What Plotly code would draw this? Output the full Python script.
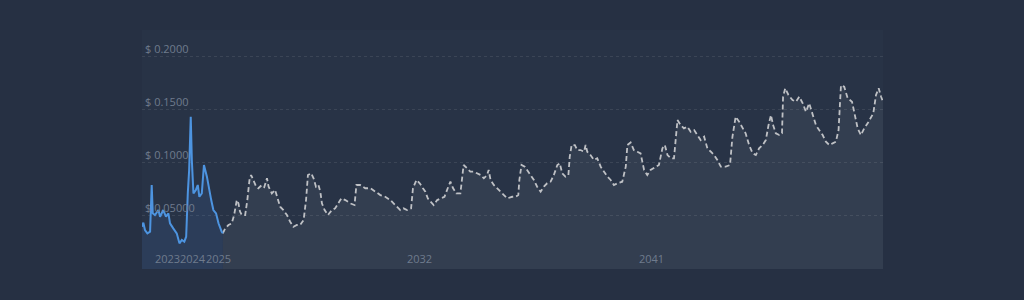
import plotly.graph_objects as go

# Historical prices (decimal year, USD)
hist_years = [2022.00, 2022.05, 2022.11, 2022.20, 2022.30, 2022.36, 2022.40, 2022.48, 2022.61, 2022.67,
              2022.79, 2022.89, 2022.98, 2023.04, 2023.16, 2023.29, 2023.39, 2023.48, 2023.57, 2023.64,
              2023.70, 2023.75, 2023.81, 2023.85, 2023.91, 2024.00, 2024.07, 2024.13, 2024.22, 2024.30,
              2024.41, 2024.49, 2024.57, 2024.65, 2024.75, 2024.84, 2024.90, 2024.96, 2025.00]
hist_prices = [0.0398, 0.0436, 0.0367, 0.0336, 0.0351, 0.0791, 0.0524, 0.0508, 0.0555, 0.0492,
               0.0555, 0.0492, 0.0524, 0.0430, 0.0383, 0.0336, 0.0242, 0.0273, 0.0257, 0.0304,
               0.0712, 0.0932, 0.1433, 0.1026, 0.0712, 0.0744, 0.0791, 0.0680, 0.0712, 0.0979,
               0.0869, 0.0744, 0.0649, 0.0555, 0.0524, 0.0430, 0.0383, 0.0351, 0.0336]

# Forecast prices (decimal year, USD)
fc_years = [2025.00, 2025.09, 2025.21, 2025.33, 2025.42, 2025.52, 2025.58, 2025.64, 2025.71, 2025.83,
            2025.91, 2025.99, 2026.05, 2026.14, 2026.24, 2026.32, 2026.45, 2026.54, 2026.64, 2026.70,
            2026.82, 2026.94, 2027.04, 2027.13, 2027.25, 2027.38, 2027.50, 2027.62, 2027.75, 2027.87,
            2028.00, 2028.09, 2028.16, 2028.28, 2028.37, 2028.46, 2028.55, 2028.62, 2028.68, 2028.78,
            2028.90, 2029.05, 2029.17, 2029.30, 2029.40, 2029.55, 2029.73, 2029.89, 2029.96, 2030.10,
            2030.29, 2030.48, 2030.66, 2030.85, 2031.03, 2031.22, 2031.34, 2031.47, 2031.59, 2031.71,
            2031.84, 2031.99, 2032.06, 2032.19, 2032.31, 2032.43, 2032.52, 2032.61, 2032.71, 2032.83,
            2032.96, 2033.08, 2033.23, 2033.35, 2033.45, 2033.55, 2033.67, 2033.82, 2033.88, 2033.94,
            2034.07, 2034.19, 2034.32, 2034.44, 2034.57, 2034.69, 2034.81, 2034.87, 2034.94, 2035.06,
            2035.19, 2035.31, 2035.43, 2035.56, 2035.74, 2035.87, 2035.97, 2036.01, 2036.09, 2036.21,
            2036.34, 2036.42, 2036.55, 2036.67, 2036.80, 2036.92, 2037.04, 2037.17, 2037.29, 2037.42,
            2037.51, 2037.60, 2037.72, 2037.83, 2037.88, 2037.95, 2038.07, 2038.16, 2038.28, 2038.41,
            2038.47, 2038.53, 2038.65, 2038.78, 2038.90, 2039.03, 2039.15, 2039.28, 2039.40, 2039.52,
            2039.65, 2039.83, 2039.96, 2040.02, 2040.14, 2040.26, 2040.39, 2040.51, 2040.64, 2040.76,
            2040.88, 2041.07, 2041.19, 2041.32, 2041.41, 2041.51, 2041.63, 2041.75, 2041.82, 2041.88,
            2042.00, 2042.12, 2042.25, 2042.37, 2042.50, 2042.62, 2042.74, 2042.87, 2042.99, 2043.12,
            2043.24, 2043.36, 2043.49, 2043.67, 2043.83, 2043.92, 2044.04, 2044.17, 2044.29, 2044.41,
            2044.54, 2044.67, 2044.79, 2044.91, 2045.04, 2045.16, 2045.26, 2045.35, 2045.43, 2045.53,
            2045.66, 2045.76, 2045.80, 2045.88, 2046.00, 2046.15, 2046.28, 2046.40, 2046.53, 2046.65,
            2046.77, 2046.90, 2047.02, 2047.14, 2047.27, 2047.39, 2047.52, 2047.64, 2047.76, 2047.86,
            2047.95, 2048.07, 2048.20, 2048.36, 2048.44, 2048.57, 2048.69, 2048.81, 2048.94, 2049.06,
            2049.15, 2049.25, 2049.35, 2049.44, 2049.51]
fc_prices = [0.0336, 0.0383, 0.0414, 0.0430, 0.0508, 0.0649, 0.0618, 0.0539, 0.0508, 0.0508,
             0.0649, 0.0838, 0.0885, 0.0838, 0.0775, 0.0760, 0.0791, 0.0772, 0.0854, 0.0775,
             0.0712, 0.0744, 0.0665, 0.0586, 0.0555, 0.0508, 0.0445, 0.0398, 0.0414, 0.0414,
             0.0461, 0.0649, 0.0885, 0.0901, 0.0854, 0.0775, 0.0791, 0.0728, 0.0618, 0.0555,
             0.0508, 0.0555, 0.0571, 0.0618, 0.0665, 0.0649, 0.0618, 0.0602, 0.0791, 0.0791,
             0.0760, 0.0760, 0.0728, 0.0696, 0.0680, 0.0649, 0.0618, 0.0586, 0.0555, 0.0571,
             0.0555, 0.0571, 0.0760, 0.0838, 0.0807, 0.0760, 0.0728, 0.0665, 0.0633, 0.0602,
             0.0649, 0.0665, 0.0680, 0.0760, 0.0822, 0.0760, 0.0712, 0.0712, 0.0838, 0.0979,
             0.0948, 0.0916, 0.0916, 0.0901, 0.0885, 0.0854, 0.0885, 0.0932, 0.0838, 0.0791,
             0.0760, 0.0728, 0.0696, 0.0665, 0.0680, 0.0680, 0.0696, 0.0838, 0.0979, 0.0963,
             0.0916, 0.0885, 0.0838, 0.0775, 0.0728, 0.0775, 0.0807, 0.0822, 0.0885, 0.0979,
             0.0995, 0.0901, 0.0869, 0.0885, 0.1057, 0.1167, 0.1167, 0.1120, 0.1120, 0.1104,
             0.1167, 0.1104, 0.1073, 0.1026, 0.1042, 0.0963, 0.0916, 0.0869, 0.0838, 0.0791,
             0.0807, 0.0822, 0.0963, 0.1167, 0.1191, 0.1120, 0.1104, 0.1089, 0.0932, 0.0885,
             0.0932, 0.0963, 0.0979, 0.1136, 0.1167, 0.1073, 0.1042, 0.1042, 0.1214, 0.1402,
             0.1355, 0.1324, 0.1339, 0.1292, 0.1308, 0.1261, 0.1214, 0.1245, 0.1136, 0.1104,
             0.1073, 0.1026, 0.0963, 0.0963, 0.0979, 0.1245, 0.1433, 0.1386, 0.1324, 0.1277,
             0.1167, 0.1089, 0.1073, 0.1136, 0.1167, 0.1214, 0.1355, 0.1449, 0.1355, 0.1277,
             0.1261, 0.1277, 0.1622, 0.1701, 0.1638, 0.1591, 0.1575, 0.1622, 0.1560, 0.1480,
             0.1560, 0.1449, 0.1355, 0.1308, 0.1261, 0.1198, 0.1167, 0.1183, 0.1198, 0.1308,
             0.1730, 0.1716, 0.1607, 0.1575, 0.1465, 0.1324, 0.1261, 0.1324, 0.1371, 0.1418,
             0.1465, 0.1638, 0.1701, 0.1622, 0.1575]

# Axis ticks
x_tick_labels = ["2023", "2024", "2025", "2032", "2041"]
x_tick_positions = [2022.95, 2023.89, 2024.83, 2032.30, 2040.90]
y_tick_values = [0.05, 0.10, 0.15, 0.20]
y_tick_labels = ["$ 0.05000", "$ 0.1000", "$ 0.1500", "$ 0.2000"]

LABEL_COLOR = "#6f7b8d"

fig = go.Figure()
fig.add_trace(go.Scatter(
    x=fc_years, y=fc_prices, mode="lines",
    line=dict(color="#bfc1c5", width=1.8, dash="5px,3px"),
    fill="tozeroy", fillcolor="rgba(255,255,255,0.055)",
    hoverinfo="skip",
))
fig.add_trace(go.Scatter(
    x=hist_years, y=hist_prices, mode="lines",
    line=dict(color="#4d94e0", width=2),
    fill="tozeroy", fillcolor="rgba(70,140,230,0.12)",
    hoverinfo="skip",
))

# x-axis year labels drawn inside the plot (as in the reference)
for pos, lab in zip(x_tick_positions, x_tick_labels):
    fig.add_annotation(
        x=pos, y=0, xref="x", yref="y", text=lab, showarrow=False,
        xanchor="center", yanchor="bottom", yshift=1,
        font=dict(family="Open Sans", size=11, color=LABEL_COLOR),
    )

fig.update_layout(
    width=1024, height=300,
    margin=dict(l=142, r=141, t=30, b=31),
    paper_bgcolor="#263043",
    plot_bgcolor="#283346",
    showlegend=False,
    font=dict(family="Open Sans", size=11, color=LABEL_COLOR),
    xaxis=dict(
        range=[2022.0, 2049.51],
        showticklabels=False, ticks="",
        showgrid=False, zeroline=False, showline=False,
    ),
    yaxis=dict(
        range=[0, 0.225],
        tickmode="array", tickvals=y_tick_values, ticktext=y_tick_labels,
        ticklabelposition="inside top", ticks="",
        showgrid=True, gridcolor="rgba(255,255,255,0.09)", griddash="dot", gridwidth=1,
        zeroline=False, showline=False,
        tickfont=dict(size=11, color=LABEL_COLOR),
    ),
)

fig.write_html("out.html")
